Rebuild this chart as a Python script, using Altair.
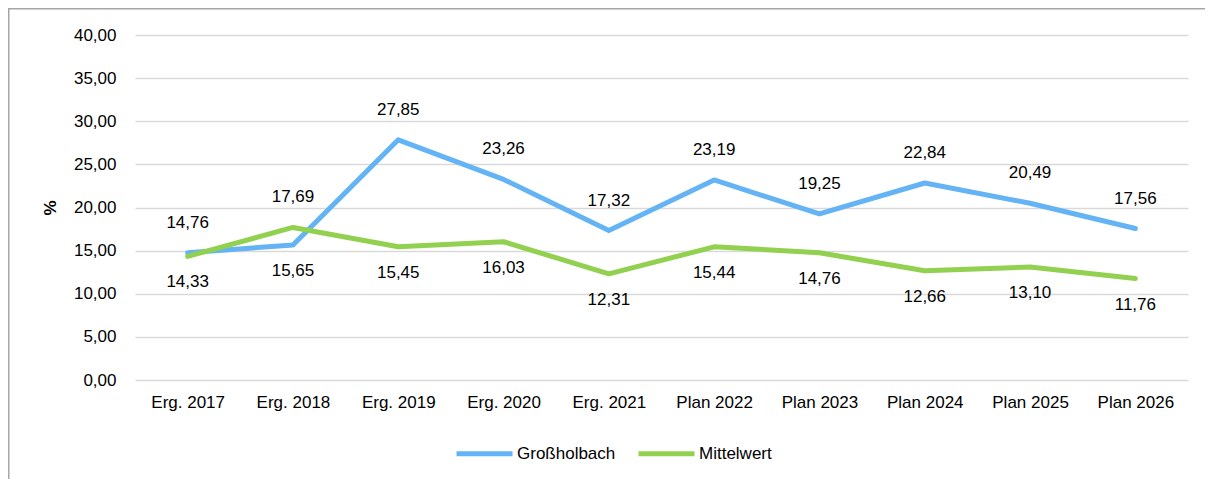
import altair as alt
import pandas as pd

categories = ["Erg. 2017", "Erg. 2018", "Erg. 2019", "Erg. 2020", "Erg. 2021",
              "Plan 2022", "Plan 2023", "Plan 2024", "Plan 2025", "Plan 2026"]
grossholbach = [14.76, 15.65, 27.85, 23.26, 17.32, 23.19, 19.25, 22.84, 20.49, 17.56]
mittelwert = [14.33, 17.69, 15.45, 16.03, 12.31, 15.44, 14.76, 12.66, 13.10, 11.76]
series_names = ["Großholbach", "Mittelwert"]
series_colors = ["#64B4F5", "#92D050"]
y_ticks = [0, 5, 10, 15, 20, 25, 30, 35, 40]

rows = []
for i, c in enumerate(categories):
    g, m = grossholbach[i], mittelwert[i]
    rows.append(dict(cat=c, series=series_names[0], value=g,
                     label=f"{g:.2f}".replace(".", ","), pos="above" if g >= m else "below"))
    rows.append(dict(cat=c, series=series_names[1], value=m,
                     label=f"{m:.2f}".replace(".", ","), pos="above" if m > g else "below"))
df = pd.DataFrame(rows)

W, H = 1053, 345
PL, PT = 127, 27
FONT = "Liberation Sans"

x = alt.X("cat:N", sort=categories, title=None,
          scale=alt.Scale(type="point", padding=0.5),
          axis=alt.Axis(labelAngle=0, ticks=False, domain=False, grid=False,
                        labelFontSize=17, labelFont=FONT, labelColor="#000000",
                        labelPadding=14))
y = alt.Y("value:Q", title="%",
          scale=alt.Scale(domain=[0, 40], nice=False, zero=True),
          axis=alt.Axis(values=y_ticks, ticks=False, domain=False, grid=True,
                        gridColor="#D9D9D9", gridWidth=1.5,
                        labelExpr="replace(format(datum.value, '.2f'), '.', ',')",
                        labelFontSize=17, labelFont=FONT, labelColor="#000000",
                        labelPadding=19, titleFontSize=17, titleFont=FONT,
                        titleFontWeight="bold", titleColor="#000000", titlePadding=14))

lines = alt.Chart(df).mark_line(strokeWidth=5, strokeCap="round", strokeJoin="round").encode(
    x=x, y=y,
    color=alt.Color("series:N", sort=series_names,
                    scale=alt.Scale(domain=series_names, range=series_colors),
                    legend=alt.Legend(orient="none", legendX=319, legendY=388,
                                      direction="horizontal", title=None,
                                      symbolType="stroke", symbolSize=3136,
                                      symbolStrokeWidth=5, labelFontSize=17,
                                      labelFont=FONT, labelColor="#000000",
                                      labelOffset=2, columnPadding=12)),
)

above = alt.Chart(df).transform_filter(alt.datum.pos == "above").mark_text(
    dy=-30, fontSize=17, font=FONT, color="#000000").encode(
    x=alt.X("cat:N", sort=categories), y="value:Q", text="label:N")
below = alt.Chart(df).transform_filter(alt.datum.pos == "below").mark_text(
    dy=26, fontSize=17, font=FONT, color="#000000").encode(
    x=alt.X("cat:N", sort=categories), y="value:Q", text="label:N")

frame_data = alt.Data(values=[{"k": 1}])
left_border = alt.Chart(frame_data).mark_rule(color="#A6A6A6", strokeWidth=1.5).encode(
    x=alt.value(-PL + 0.75), y=alt.value(-PT + 0.75), y2=alt.value(H + 200))
top_border = alt.Chart(frame_data).mark_rule(color="#A6A6A6", strokeWidth=1.5).encode(
    x=alt.value(-PL), x2=alt.value(W + 200), y=alt.value(-PT + 0.75))

chart = alt.layer(lines, above, below, left_border, top_border).properties(
    width=W, height=H,
    autosize=alt.AutoSizeParams(type="none"),
    padding={"left": PL, "top": PT, "right": 17, "bottom": 99},
    background="#FFFFFF",
).configure_view(stroke=None, strokeWidth=0)

chart.save("out.html", embed_options={"renderer": "svg", "actions": False})
